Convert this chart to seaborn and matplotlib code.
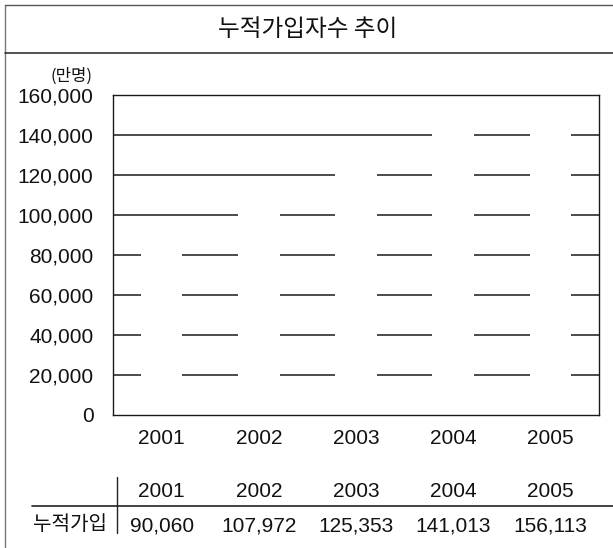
import matplotlib
matplotlib.use("Agg")
import matplotlib.pyplot as plt
import matplotlib.transforms as mtransforms
from matplotlib.lines import Line2D
from matplotlib.ticker import FuncFormatter
import seaborn as sns
import pandas as pd

years = ["2001", "2002", "2003", "2004", "2005"]
subscribers = [90060, 107972, 125353, 141013, 156113]
row_label = "누적가입"
title = "누적가입자수 추이"
unit_label = "(만명)"
y_ticks = [0, 20000, 40000, 60000, 80000, 100000, 120000, 140000, 160000]

df = pd.DataFrame({"year": years, "value": subscribers})

sns.set_style("white")
plt.rcParams["font.family"] = ["Liberation Sans", "Noto Sans CJK KR", "DejaVu Sans"]
KR = ["Noto Sans CJK KR", "DejaVu Sans"]

W, H = 613, 548
fig = plt.figure(figsize=(W / 100, H / 100), dpi=100)
fig.patch.set_facecolor("white")

ax = fig.add_axes([113 / W, 1 - 415 / H, 486 / W, 320 / H])
ax.set_axisbelow(True)
for v in y_ticks[1:-1]:
    ax.axhline(v, color="#1a1a1a", lw=1.1, zorder=0)
sns.barplot(data=df, x="year", y="value", color="white", width=0.43,
            saturation=1, edgecolor="none", linewidth=0, ax=ax, zorder=2)
ax.set_ylim(0, 160000)
ax.set_xlim(-0.5, 4.5)
ax.set_yticks(y_ticks)
ax.yaxis.set_major_formatter(FuncFormatter(lambda v, p: f"{int(v):,}"))
ax.set_xlabel("")
ax.set_ylabel("")
ax.tick_params(axis="y", length=0, pad=14, labelsize=15, colors="#111111")
ax.tick_params(axis="x", length=0, pad=10, labelsize=15, colors="#111111")
for s in ax.spines.values():
    s.set_visible(True)
    s.set_color("#1a1a1a")
    s.set_linewidth(1.0)

# unit label
fig.text(93 / W, 1 - 81 / H, unit_label, ha="right", va="baseline",
         fontsize=12, family=KR, color="#111111")

# title
fig.text(308 / W, 1 - 30 / H, title, ha="center", va="center",
         fontsize=17, family=KR, color="#111111")

# frame lines
def fline(x0, y0, x1, y1, color="#444444", lw=1.0):
    fig.add_artist(Line2D([x0 / W, x1 / W], [1 - y0 / H, 1 - y1 / H],
                          transform=fig.transFigure, color=color, lw=lw))

fline(5, 5, 5, H, color="#777777")
fline(5, 5, W, 5, color="#555555")
fline(5, 53, W, 53, color="#333333", lw=1.2)

# table
fline(32, 506, W, 506, color="#222222", lw=1.2)
fline(117, 477, 117, 533, color="#222222", lw=1.0)
tr = mtransforms.blended_transform_factory(ax.transData, fig.transFigure)
for i, (yr, val) in enumerate(zip(years, subscribers)):
    fig.text(i, 1 - 497 / H, yr, transform=tr, ha="center", va="baseline",
             fontsize=15, color="#111111")
    fig.text(i, 1 - 531 / H, f"{val:,}", transform=tr, ha="center", va="baseline",
             fontsize=15, color="#111111")
fig.text(70 / W, 1 - 530 / H, row_label, ha="center", va="baseline",
         fontsize=14.5, family=KR, color="#111111")

fig.savefig("out.png", dpi=100, facecolor="white")
